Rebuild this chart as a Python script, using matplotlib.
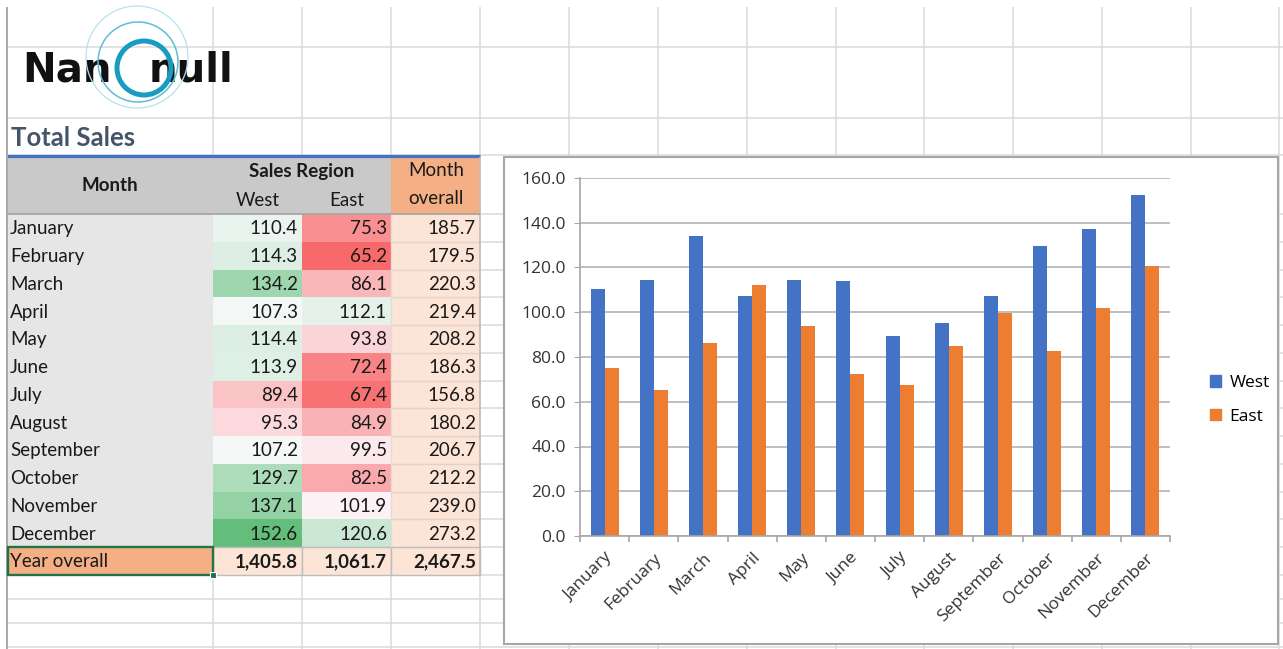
import matplotlib.pyplot as plt
import numpy as np
from matplotlib.patches import Rectangle, Circle, Patch

months = ['January', 'February', 'March', 'April', 'May', 'June', 'July',
          'August', 'September', 'October', 'November', 'December']
west = [110.4, 114.3, 134.2, 107.3, 114.4, 113.9, 89.4, 95.3, 107.2, 129.7, 137.1, 152.6]
east = [75.3, 65.2, 86.1, 112.1, 93.8, 72.4, 67.4, 84.9, 99.5, 82.5, 101.9, 120.6]
yticks = [0, 20, 40, 60, 80, 100, 120, 140, 160]

month_total = [w + e for w, e in zip(west, east)]
year_totals = [sum(west), sum(east), sum(month_total)]

BLUE = '#4472C4'
ORANGE = '#ED7D31'

W, H = 1283, 649
fig = plt.figure(figsize=(W / 100, H / 100), dpi=100)

# sheet background drawn in pixel coordinates
bg = fig.add_axes([0, 0, 1, 1])
bg.set_xlim(0, W)
bg.set_ylim(H, 0)
bg.axis('off')

col_x = [7, 213, 302, 391, 480, 569, 658, 747, 836, 924, 1013, 1102, 1191, 1279]
hdr_top, hdr_mid, hdr_bot = 157, 186, 214
row_h = 27.75
data_edges = [hdr_bot + i * row_h for i in range(14)]
row_y = [47, 118, 155] + data_edges + [599, 623, 647]

grid_c = '#dadada'
bg.vlines(col_x[1:], 7, H, color=grid_c, lw=1.1, zorder=0.5)
bg.hlines(row_y, 7, W, color=grid_c, lw=1.1, zorder=0.5)
bg.vlines(7, 7, H, color='#a9a9a9', lw=1.4, zorder=3)

# logo
bg.text(22, 82, 'Nan', ha='left', va='baseline', fontsize=29, fontweight='bold',
        family='DejaVu Sans', color='#111111')
bg.text(233, 82, 'null', ha='right', va='baseline', fontsize=29, fontweight='bold',
        family='DejaVu Sans', color='#111111')
bg.add_patch(Circle((137, 57), 51, fill=False, ec='#b5e2ee', lw=0.9, zorder=4))
bg.add_patch(Circle((138, 62), 40, fill=False, ec='#5fbdd8', lw=1.1, zorder=4))
bg.add_patch(Circle((144, 68), 27, fill=False, ec='#1a9cc0', lw=3.6, zorder=4))

# title row
bg.text(11, 138, 'Total Sales', ha='left', va='center', fontsize=18.5, fontweight='bold',
        family='Lato', color='#44546A')
bg.hlines(155.5, 7, 480, color=BLUE, lw=2.3)

# red - white - green colour scale over both regions
vals = np.array(west + east)
lo, mid, hi = vals.min(), np.percentile(vals, 50), vals.max()
red = np.array([0xF8, 0x69, 0x6B]) / 255
white = np.array([0xFC, 0xFC, 0xFF]) / 255
green = np.array([0x63, 0xBE, 0x7B]) / 255


def scale_color(v):
    if v <= mid:
        t = (v - lo) / (mid - lo)
        return red + (white - red) * t
    t = (v - mid) / (hi - mid)
    return white + (green - white) * t


tfont = dict(family='Lato', fontsize=13.5, color='#1a1a1a')

# header
bg.add_patch(Rectangle((7, hdr_top), 384, hdr_bot - hdr_top, fc='#C9C9C9', ec='none'))
bg.add_patch(Rectangle((391, hdr_top), 89, hdr_bot - hdr_top, fc='#F4B084', ec='none'))
bg.text(110, (hdr_top + hdr_bot) / 2, 'Month', ha='center', va='center', fontweight='bold', **tfont)
bg.text(302, 172, 'Sales Region', ha='center', va='center', fontweight='bold', **tfont)
bg.text(258, 201, 'West', ha='center', va='center', **tfont)
bg.text(347, 201, 'East', ha='center', va='center', **tfont)
bg.text(436, 171, 'Month', ha='center', va='center', **tfont)
bg.text(436, 199, 'overall', ha='center', va='center', **tfont)

# data rows
for i, m in enumerate(months):
    y0 = data_edges[i]
    yc = y0 + row_h / 2 + 1
    bg.add_patch(Rectangle((7, y0), 206, row_h, fc='#E7E6E6', ec='none'))
    bg.add_patch(Rectangle((213, y0), 89, row_h, fc=scale_color(west[i]), ec='none'))
    bg.add_patch(Rectangle((302, y0), 89, row_h, fc=scale_color(east[i]), ec='none'))
    bg.add_patch(Rectangle((391, y0), 89, row_h, fc='#FCE4D6', ec='none'))
    bg.text(10, yc, m, ha='left', va='center', **tfont)
    bg.text(298, yc, f'{west[i]:.1f}', ha='right', va='center', **tfont)
    bg.text(387, yc, f'{east[i]:.1f}', ha='right', va='center', **tfont)
    bg.text(476, yc, f'{month_total[i]:.1f}', ha='right', va='center', **tfont)

bg.hlines(data_edges[1:12], 391, 480, color='#e2d3ca', lw=1.0)
bg.vlines(391, hdr_bot, data_edges[12], color='#e6dcd6', lw=1.0)
bg.vlines(480, hdr_top, data_edges[13], color='#bdbdbd', lw=1.2)
bg.hlines(hdr_bot, 7, 480, color='#a6a6a6', lw=1.3)

# totals row
y0 = data_edges[12]
yc = y0 + row_h / 2 + 1
bg.add_patch(Rectangle((7, y0), 206, row_h, fc='#F4B084', ec='none'))
for k, x0 in enumerate([213, 302, 391]):
    bg.add_patch(Rectangle((x0, y0), 89, row_h, fc='#FCE4D6', ec='#bdbdbd', lw=1.0))
    bg.text(x0 + 85, yc, f'{year_totals[k]:,.1f}', ha='right', va='center',
            fontweight='bold', **tfont)
bg.text(10, yc, 'Year overall', ha='left', va='center', **tfont)
bg.add_patch(Rectangle((7.5, y0), 205.5, row_h, fill=False, ec='#217346', lw=1.7, zorder=3))
bg.add_patch(Rectangle((210, y0 + row_h - 3), 6, 6, fc='#217346', ec='white', lw=0.8, zorder=3))

# chart frame
bg.add_patch(Rectangle((504, 157), 774, 487, fc='white', ec='#a6a6a6', lw=1.5, zorder=3))

# column chart
ax = fig.add_axes([580 / W, (H - 536) / H, 590 / W, 358 / H])
ax.patch.set_alpha(0)
x = np.arange(len(months))
bw = 0.286
ax.bar(x - bw / 2, west, bw, color=BLUE, label='West')
ax.bar(x + bw / 2, east, bw, color=ORANGE, label='East')

ax.set_xlim(-0.5, len(months) - 0.5)
ax.set_ylim(0, 160)
ax.set_yticks(yticks)
ax.set_yticklabels([f'{v:.1f}' for v in yticks])
ax.set_xticks(x)
ax.set_xticklabels(months, rotation=45, ha='right', rotation_mode='anchor')
ax.set_xticks(np.arange(-0.5, len(months), 1), minor=True)

gray = '#a6a6a6'
ax.yaxis.grid(True, color='#b4b4b4', lw=1.2)
ax.set_axisbelow(True)
for s in ['top', 'right']:
    ax.spines[s].set_visible(False)
for s in ['left', 'bottom']:
    ax.spines[s].set_color(gray)
    ax.spines[s].set_linewidth(1.2)
ax.tick_params(axis='y', length=4.3, color=gray, pad=6, labelsize=12.5, labelcolor='#333333')
ax.tick_params(axis='x', which='major', length=0, pad=10, labelsize=12.5, labelcolor='#333333')
ax.tick_params(axis='x', which='minor', length=4.3, color=gray, width=1.2)
for lab in ax.get_xticklabels() + ax.get_yticklabels():
    lab.set_family('Open Sans')

handles = [Patch(color=BLUE, label='West'), Patch(color=ORANGE, label='East')]
fig.legend(handles=handles, loc='center left', bbox_to_anchor=(1194 / W, 1 - 400 / H),
           frameon=False, handlelength=0.65, handleheight=0.65, handletextpad=0.5,
           labelspacing=1.0, prop={'family': 'Open Sans', 'size': 12.5})

fig.savefig('out.png', dpi=100)
